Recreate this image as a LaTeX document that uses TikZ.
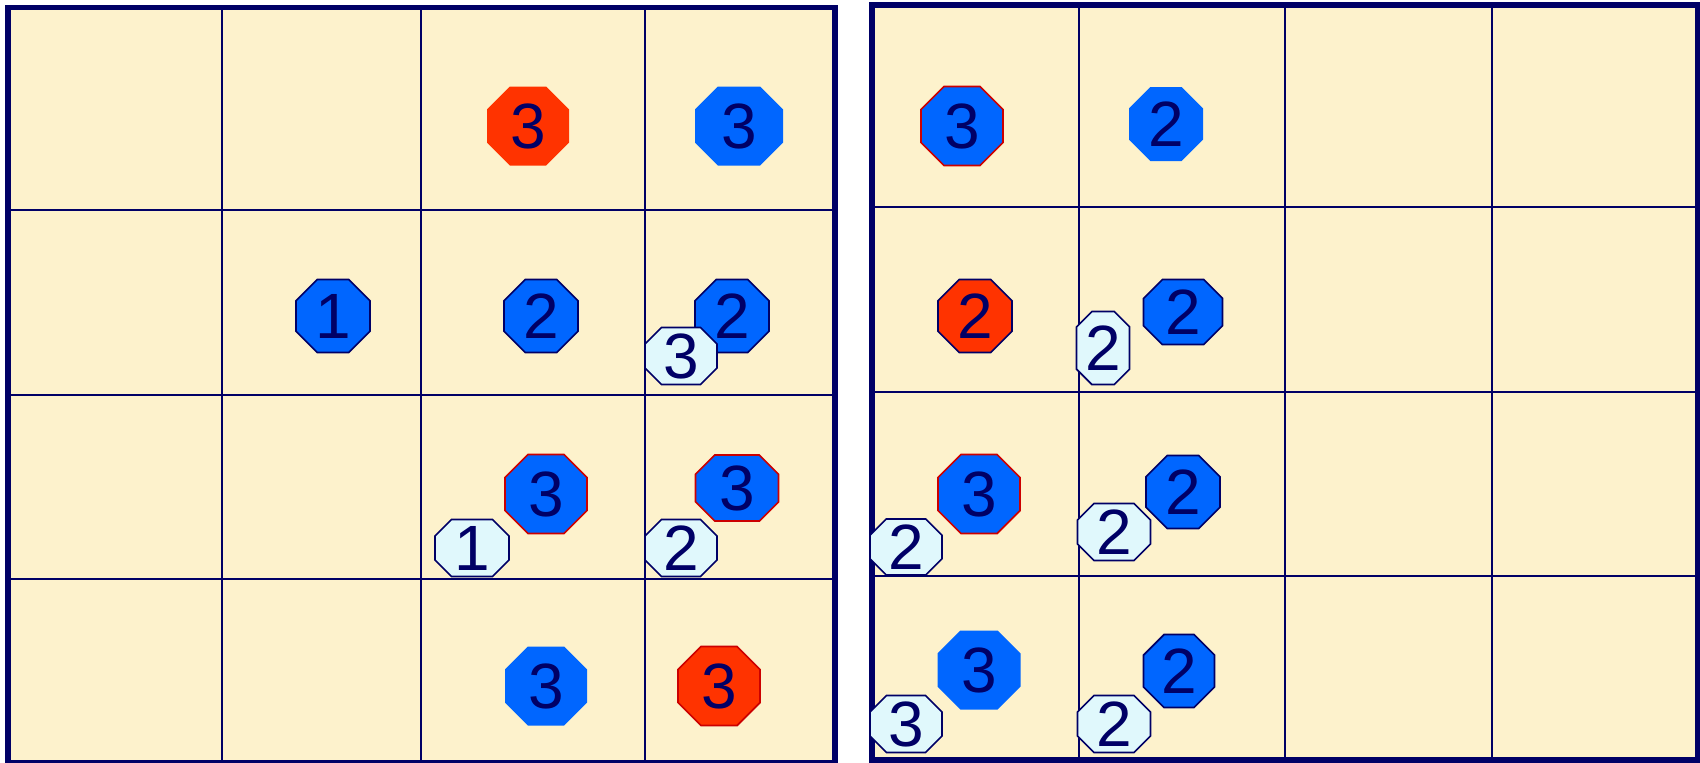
\documentclass[tikz,border=0pt]{standalone}
\usepackage{fontspec}
\setmainfont{Liberation Sans}

\definecolor{navy}{HTML}{000066}
\definecolor{cream}{HTML}{FDF2CC}
\definecolor{stoneblue}{HTML}{0066FF}
\definecolor{stonered}{HTML}{FF3300}
\definecolor{stonewhite}{HTML}{E0F8FC}
\definecolor{rim}{HTML}{CC0000}

\tikzset{
  stonelabel/.style={inner sep=0pt, text=navy, font=\fontsize{32}{32}\selectfont},
  bluestone/.style={fill=stoneblue, line width=.8pt},
  redstone/.style={fill=stonered, line width=.8pt},
  ghost/.style={fill=stonewhite, draw=navy, line width=.8pt},
  frame/.style={draw=navy, line width=2.8pt},
  gridline/.style={draw=navy, line width=1.35pt}
}

% octagonal stone: name, centre, width, height, look, number
\newcommand{\stone}[6]{%
  \begin{scope}[shift={#2}]
    \pgfmathsetmacro\cut{min(#3,#4)*.29}
    \path[#5] (-#3/2+\cut,-#4/2) -- (#3/2-\cut,-#4/2) -- (#3/2,-#4/2+\cut)
      -- (#3/2,#4/2-\cut) -- (#3/2-\cut,#4/2) -- (-#3/2+\cut,#4/2)
      -- (-#3/2,#4/2-\cut) -- (-#3/2,-#4/2+\cut) -- cycle;
  \end{scope}
  \node[stonelabel] (#1) at #2 {#6};
}

\begin{document}
\begin{tikzpicture}[x=.5pt, y=-.5pt]
\useasboundingbox (0,0) rectangle (1700,762);

% left board
\fill[cream] (8,7.5) rectangle (835,763);
\foreach \x in {222,421,645} \draw[gridline] (\x,7.5) -- (\x,763);
\foreach \y in {210,395,579} \draw[gridline] (8,\y) -- (835,\y);
\draw[frame] (8,7.5) rectangle (835,763);

% right board
\fill[cream] (872,5) rectangle (1698,760);
\foreach \x in {1079,1285,1492} \draw[gridline] (\x,5) -- (\x,760);
\foreach \y in {207,392,576} \draw[gridline] (872,\y) -- (1698,\y);
\draw[frame] (872,5) rectangle (1698,760);

% stones on the left board
\stone{L13}{(528,126)}{82}{79}{redstone}{3}
\stone{L14}{(739,126)}{88}{79}{bluestone}{3}
\stone{L22}{(333,316)}{74}{73}{bluestone, draw=navy}{1}
\stone{L23}{(541,316)}{74}{73}{bluestone, draw=navy}{2}
\stone{L24}{(732,316)}{74}{73}{bluestone, draw=navy}{2}
\stone{L24g}{(681,356)}{72}{57}{ghost}{3}
\stone{L33}{(546,494)}{82}{79}{bluestone, draw=rim}{3}
\stone{L34}{(737,488)}{83}{66}{bluestone, draw=rim}{3}
\stone{L33g}{(472,548)}{74}{57}{ghost}{1}
\stone{L34g}{(681,548)}{72}{57}{ghost}{2}
\stone{L43}{(546,686)}{82}{79}{bluestone}{3}
\stone{L44}{(719,686)}{82}{79}{redstone, draw=rim}{3}

% stones on the right board
\stone{R11}{(962,126)}{82}{79}{bluestone, draw=rim}{3}
\stone{R12}{(1166,124)}{74}{74}{bluestone}{2}
\stone{R21}{(975,316)}{74}{73}{redstone, draw=navy}{2}
\stone{R22}{(1183,312)}{79}{65}{bluestone, draw=navy}{2}
\stone{R22g}{(1103,348)}{53}{73}{ghost}{2}
\stone{R31}{(979,494)}{82}{79}{bluestone, draw=rim}{3}
\stone{R31g}{(906,547)}{72}{56}{ghost}{2}
\stone{R32}{(1183,492)}{74}{73}{bluestone, draw=navy}{2}
\stone{R32g}{(1114,532)}{73}{57}{ghost}{2}
\stone{R41}{(979,670)}{83}{79}{bluestone}{3}
\stone{R41g}{(906,724)}{72}{57}{ghost}{3}
\stone{R42}{(1179,671)}{71}{73}{bluestone, draw=navy}{2}
\stone{R42g}{(1114,724)}{73}{57}{ghost}{2}

\end{tikzpicture}
\end{document}
